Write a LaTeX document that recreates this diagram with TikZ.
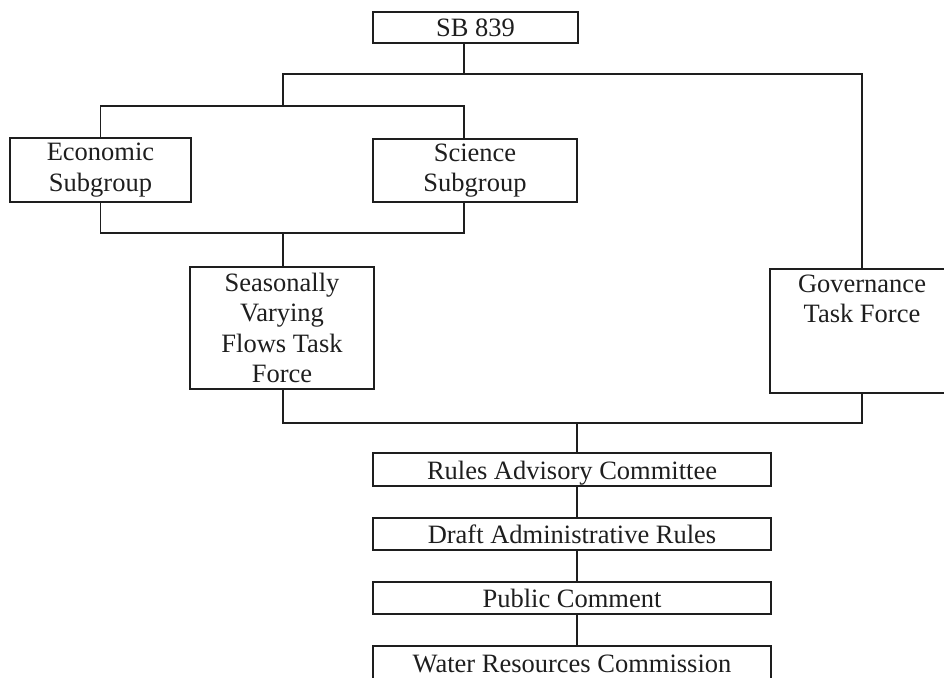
\documentclass[tikz,border=0pt]{standalone}
\usepackage{fontspec}
\setmainfont{Liberation Serif}
\definecolor{ink}{HTML}{1E1E1E}
\begin{document}
\begin{tikzpicture}[x=1pt,y=-1pt,
  box/.style={draw=ink, line width=1.3pt, rectangle, inner sep=0pt, align=center,
    font=\fontsize{26.5}{30.5}\selectfont, text=ink},
  one/.style={text height=19pt, text depth=0pt},
  txt/.style={inner sep=0pt, align=center, font=\fontsize{26.5}{30.5}\selectfont, text=ink},
  link/.style={draw=ink, line width=1.3pt}]
\useasboundingbox (0,0) rectangle (944,677);
% boxes
\node[box,one,minimum width=205pt,minimum height=31pt] (sb) at (475.5,27.5) {SB 839};
\node[box,minimum width=181pt,minimum height=64pt] (econ) at (100.5,170) {Economic\\Subgroup};
\node[box,minimum width=204pt,minimum height=63pt] (sci) at (475,170.5) {Science\\Subgroup};
\node[box,minimum width=184pt,minimum height=122pt] (svf) at (282,328) {Seasonally\\Varying\\Flows Task\\Force};
\node[box,minimum width=184pt,minimum height=124pt] (gov) at (862,331) {};
\node[txt,anchor=north] (govtext) at (862,274.5) {Governance\\Task Force};
\node[box,one,minimum width=398pt,minimum height=33pt] (rac) at (572,469.5) {Rules Advisory Committee};
\node[box,one,minimum width=398pt,minimum height=32pt] (dar) at (572,534) {Draft Administrative Rules};
\node[box,one,minimum width=398pt,minimum height=32pt] (pc) at (572,598) {Public Comment};
\node[box,one,minimum width=398pt,minimum height=33pt] (wrc) at (572,662.5) {Water Resources Commission};
% junctions
\coordinate (t1) at (464,74);
\coordinate (t2) at (283,106);
\coordinate (t3) at (283,233);
\coordinate (t4) at (577,423);
% connectors
\draw[link] (sb.south -| t1) -- (t1);
\draw[link] (t2) -- (t2 |- t1) -| (gov.north);
\draw[link] (econ.north) |- (t2) -| (sci.north -| t1);
\draw[link] (econ.south) |- (t3) -| (sci.south -| t1);
\draw[link] (t3) -- (svf.north -| t3);
\draw[link] (svf.south -| t3) |- (gov.south |- t4) -- (gov.south);
\draw[link] (t4) -- (rac.north -| t4);
\draw[link] (rac.south -| t4) -- (dar.north -| t4);
\draw[link] (dar.south -| t4) -- (pc.north -| t4);
\draw[link] (pc.south -| t4) -- (wrc.north -| t4);
\end{tikzpicture}
\end{document}
